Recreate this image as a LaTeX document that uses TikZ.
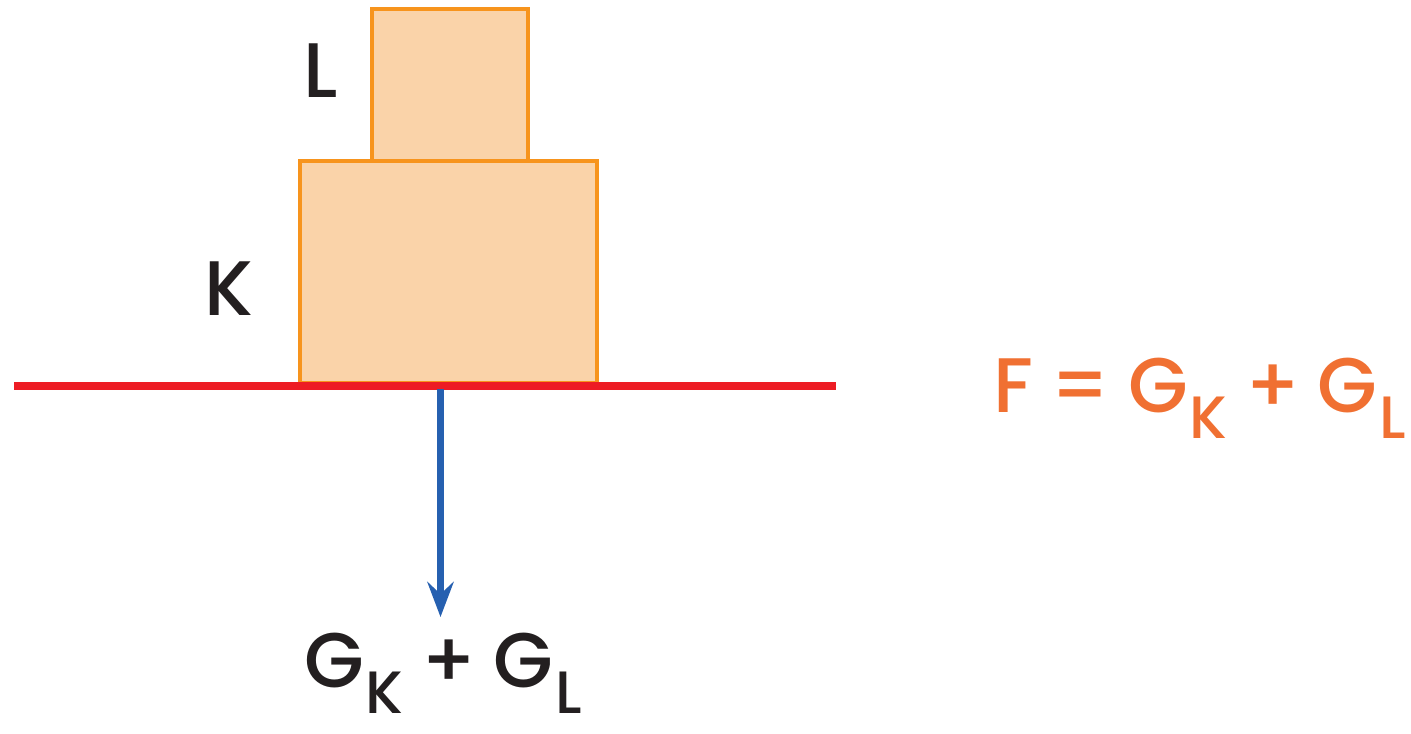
\documentclass[tikz,border=0pt]{standalone}
\usepackage{fontspec}
\setmainfont{Poppins}[UprightFont={* Medium}]
\usetikzlibrary{arrows.meta}
\definecolor{boxfill}{RGB}{249,206,160}
\definecolor{boxline}{RGB}{247,148,29}
\definecolor{floorred}{RGB}{237,28,36}
\definecolor{arrowblue}{RGB}{38,96,176}
\definecolor{eqorange}{RGB}{240,112,50}
\definecolor{txtblack}{RGB}{35,31,32}
\newcommand{\bigtxt}{\fontsize{44}{52}\selectfont}
\newcommand{\lowsub}[1]{\hspace{1pt}\raisebox{-15pt}{\fontsize{34}{40}\selectfont #1}}
\newcommand{\gap}{\hspace{10pt}}
\tikzset{
  block/.style={draw=boxline, fill=boxfill, line width=2.2pt, inner sep=0pt, fill opacity=0.9},
  lbl/.style={inner sep=0pt, font=\bigtxt, text=txtblack},
  floor/.style={draw=floorred, line width=4pt},
  force/.style={draw=arrowblue, line width=3.8pt, -{Stealth[width=15pt,length=20pt,inset=7pt]}}
}
\begin{document}
\begin{tikzpicture}[x=0.02cm,y=-0.02cm]
\useasboundingbox (0,0) rectangle (1411,734);
% blocks
\node[block, minimum width=5.94cm, minimum height=4.44cm] (K) at (448.5,272) {};
\node[block, minimum width=3.12cm, minimum height=3.04cm] (L) at (450,85) {};
% floor
\coordinate (f1) at (14,386);
\coordinate (f2) at (836,386);
\draw[floor] (f1) -- (f2);
% labels
\node[lbl, anchor=base west] (Llbl) at (303,97) {L};
\node[lbl, anchor=base west] (Klbl) at (204,315) {K};
% force arrow
\coordinate (fa) at (440.5,389);
\coordinate (fb) at (440.5,617);
\draw[force] (fa) -- (fb);
\node[lbl, anchor=base west] (sum) at (304,687) {G\lowsub{K}\gap+\gap G\lowsub{L}};
% equation
\node[lbl, anchor=base west, text=eqorange] (eq) at (993,412) {F\gap=\gap G\lowsub{K}\gap+\gap G\lowsub{L}};
\end{tikzpicture}
\end{document}
